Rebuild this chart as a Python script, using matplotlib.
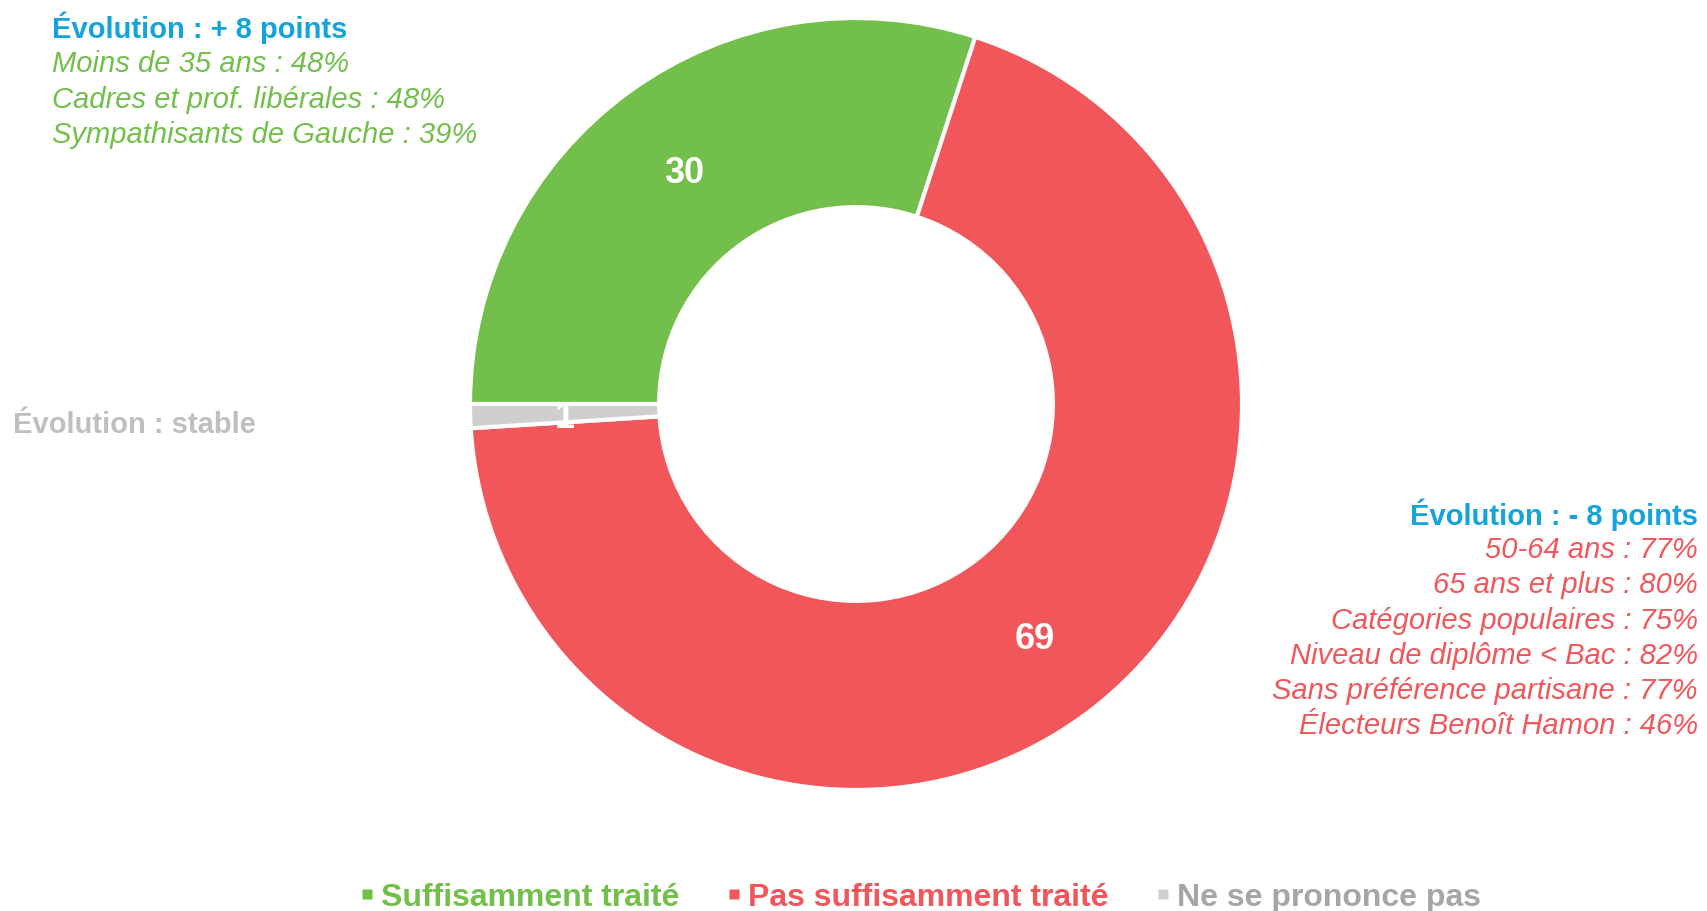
import matplotlib
matplotlib.use("Agg")
import matplotlib.pyplot as plt
from matplotlib.lines import Line2D
import numpy as np

categories = ["Suffisamment traité", "Pas suffisamment traité", "Ne se prononce pas"]
values = [30, 69, 1]
colors = ["#72BF4B", "#F0565A", "#D0CECE"]
legend_text_colors = ["#72BF4B", "#F0565A", "#A6A6A6"]

left_title = "Évolution : + 8 points"
left_lines = ["Moins de 35 ans : 48%", "Cadres et prof. libérales : 48%",
              "Sympathisants de Gauche : 39%"]
mid_title = "Évolution : stable"
right_title = "Évolution : - 8 points"
right_lines = ["50-64 ans : 77%", "65 ans et plus : 80%", "Catégories populaires : 75%",
               "Niveau de diplôme < Bac : 82%", "Sans préférence partisane : 77%",
               "Électeurs Benoît Hamon : 46%"]

BLUE = "#13A4DC"
W, H = 1707, 912
plt.rcParams['font.family'] = ['Liberation Sans', 'DejaVu Sans']
fig = plt.figure(figsize=(W / 100, H / 100), dpi=100)

cx, cy, R = 856, 405, 386
ax = fig.add_axes([(cx - R) / W, 1 - (cy + R) / H, 2 * R / W, 2 * R / H])
wedges, _ = ax.pie(values, colors=colors, startangle=180, counterclock=False,
                   radius=1, wedgeprops=dict(width=0.49, edgecolor="white", linewidth=3))
ax.set_xlim(-1, 1)
ax.set_ylim(-1, 1)
ax.set_aspect("equal")
ax.axis("off")

for w, v in zip(wedges, values):
    ang = np.deg2rad((w.theta1 + w.theta2) / 2)
    r = 0.755
    ax.text(r * np.cos(ang), r * np.sin(ang) - 0.012, str(v), color="white", fontsize=26,
            fontweight="bold", ha="center", va="center")

def ftext(x, y, s, **kw):
    fig.text(x / W, 1 - y / H, s, va="center", **kw)

ftext(52, 28, left_title, color=BLUE, fontsize=21, fontweight="bold", ha="left")
for i, s in enumerate(left_lines):
    ftext(52, 64 + 35.5 * i, s, color="#72BF4B", fontsize=21, style="italic", ha="left")

ftext(13, 425, mid_title, color="#BFBFBF", fontsize=21, fontweight="bold", ha="left")

ftext(1698, 515, right_title, color=BLUE, fontsize=21, fontweight="bold", ha="right")
for i, s in enumerate(right_lines):
    ftext(1698, 550 + 35.3 * i, s, color="#F0565A", fontsize=21, style="italic", ha="right")

handles = [Line2D([], [], marker="s", linestyle="none", markersize=6.5,
                  markerfacecolor=c, markeredgecolor="none") for c in colors]
leg = fig.legend(handles, categories, loc="center", bbox_to_anchor=(920 / W, 1 - 898 / H),
                 ncol=3, frameon=False, handlelength=0.5,
                 handletextpad=0.2, columnspacing=1.45,
                 prop=dict(weight="bold", size=23))
for t, c in zip(leg.get_texts(), legend_text_colors):
    t.set_color(c)

fig.savefig("out.png", dpi=100)
